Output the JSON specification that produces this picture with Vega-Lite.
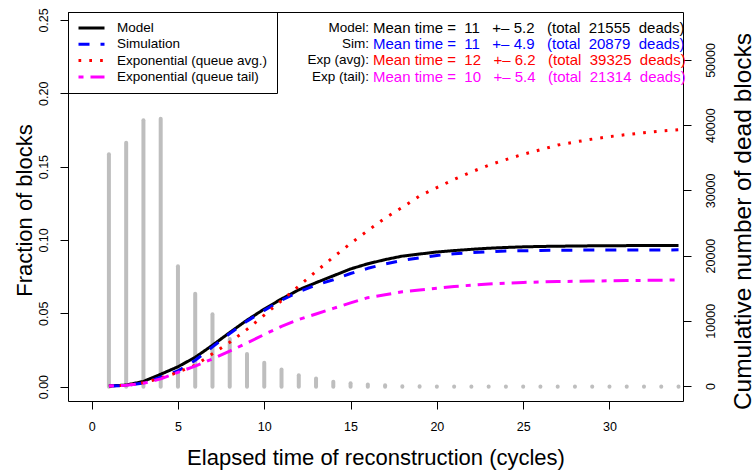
{
  "$schema": "https://vega.github.io/schema/vega-lite/v6.json",
  "width": 615,
  "height": 389,
  "autosize": {"type": "none"},
  "padding": {"left": 68, "top": 12, "right": 71, "bottom": 69},
  "config": {
    "view": {"stroke": "black", "strokeWidth": 1},
    "font": "Liberation Sans",
    "axis": {
      "domain": false, "grid": false, "tickColor": "black", "tickSize": 8, "tickWidth": 1,
      "labelFont": "Liberation Sans", "labelFontSize": 12.5, "labelColor": "black",
      "titleFont": "Liberation Sans", "titleFontSize": 22, "titleFontWeight": "normal", "titleColor": "black",
      "labelFlush": false, "labelOverlap": false
    }
  },
  "datasets": {
    "bars": [
      {"t": 1, "frac": 0.1584}, {"t": 2, "frac": 0.1663}, {"t": 3, "frac": 0.1816}, {"t": 4, "frac": 0.1827},
      {"t": 5, "frac": 0.0821}, {"t": 6, "frac": 0.0634}, {"t": 7, "frac": 0.0494}, {"t": 8, "frac": 0.0325},
      {"t": 9, "frac": 0.0223}, {"t": 10, "frac": 0.0162}, {"t": 11, "frac": 0.0116}, {"t": 12, "frac": 0.0078},
      {"t": 13, "frac": 0.0055}, {"t": 14, "frac": 0.0034}, {"t": 15, "frac": 0.0023}, {"t": 16, "frac": 0.0014},
      {"t": 17, "frac": 0.0009}, {"t": 18, "frac": 0.0003}, {"t": 19, "frac": 0.0002}, {"t": 20, "frac": 0.0001},
      {"t": 21, "frac": 0.0001}, {"t": 22, "frac": 0.0001}, {"t": 23, "frac": 0.0001}, {"t": 24, "frac": 0.0001},
      {"t": 25, "frac": 0.0001}, {"t": 26, "frac": 0.0001}, {"t": 27, "frac": 0.0001}, {"t": 28, "frac": 0.0001},
      {"t": 29, "frac": 0.0001}, {"t": 30, "frac": 0.0001}, {"t": 31, "frac": 0.0001}, {"t": 32, "frac": 0.0001},
      {"t": 33, "frac": 0.0001}, {"t": 34, "frac": 0.0001}
    ],
    "curves": [
      {"t": 1, "s": "Model", "n": 0}, {"t": 2, "s": "Model", "n": 150}, {"t": 3, "s": "Model", "n": 700}, {"t": 4, "s": "Model", "n": 1800},
      {"t": 5, "s": "Model", "n": 2950}, {"t": 6, "s": "Model", "n": 4400}, {"t": 7, "s": "Model", "n": 6250}, {"t": 8, "s": "Model", "n": 8200},
      {"t": 9, "s": "Model", "n": 10100}, {"t": 10, "s": "Model", "n": 11800}, {"t": 11, "s": "Model", "n": 13350}, {"t": 12, "s": "Model", "n": 14750},
      {"t": 13, "s": "Model", "n": 15850}, {"t": 14, "s": "Model", "n": 16900}, {"t": 15, "s": "Model", "n": 17950}, {"t": 16, "s": "Model", "n": 18750},
      {"t": 17, "s": "Model", "n": 19380}, {"t": 18, "s": "Model", "n": 19920}, {"t": 19, "s": "Model", "n": 20240}, {"t": 20, "s": "Model", "n": 20550},
      {"t": 21, "s": "Model", "n": 20770}, {"t": 22, "s": "Model", "n": 20960}, {"t": 23, "s": "Model", "n": 21130}, {"t": 24, "s": "Model", "n": 21250},
      {"t": 25, "s": "Model", "n": 21340}, {"t": 26, "s": "Model", "n": 21400}, {"t": 27, "s": "Model", "n": 21440}, {"t": 28, "s": "Model", "n": 21470},
      {"t": 29, "s": "Model", "n": 21500}, {"t": 30, "s": "Model", "n": 21520}, {"t": 31, "s": "Model", "n": 21530}, {"t": 32, "s": "Model", "n": 21540},
      {"t": 33, "s": "Model", "n": 21550}, {"t": 34, "s": "Model", "n": 21555},
      {"t": 1, "s": "Simulation", "n": 0}, {"t": 2, "s": "Simulation", "n": 80}, {"t": 3, "s": "Simulation", "n": 450}, {"t": 4, "s": "Simulation", "n": 1350},
      {"t": 5, "s": "Simulation", "n": 2300}, {"t": 6, "s": "Simulation", "n": 3950}, {"t": 7, "s": "Simulation", "n": 6000}, {"t": 8, "s": "Simulation", "n": 8050},
      {"t": 9, "s": "Simulation", "n": 9950}, {"t": 10, "s": "Simulation", "n": 11600}, {"t": 11, "s": "Simulation", "n": 13150}, {"t": 12, "s": "Simulation", "n": 14450},
      {"t": 13, "s": "Simulation", "n": 15500}, {"t": 14, "s": "Simulation", "n": 16300}, {"t": 15, "s": "Simulation", "n": 17250}, {"t": 16, "s": "Simulation", "n": 18050},
      {"t": 17, "s": "Simulation", "n": 18720}, {"t": 18, "s": "Simulation", "n": 19270}, {"t": 19, "s": "Simulation", "n": 19650}, {"t": 20, "s": "Simulation", "n": 20020},
      {"t": 21, "s": "Simulation", "n": 20270}, {"t": 22, "s": "Simulation", "n": 20460}, {"t": 23, "s": "Simulation", "n": 20590}, {"t": 24, "s": "Simulation", "n": 20700},
      {"t": 25, "s": "Simulation", "n": 20750}, {"t": 26, "s": "Simulation", "n": 20790}, {"t": 27, "s": "Simulation", "n": 20820}, {"t": 28, "s": "Simulation", "n": 20840},
      {"t": 29, "s": "Simulation", "n": 20850}, {"t": 30, "s": "Simulation", "n": 20860}, {"t": 31, "s": "Simulation", "n": 20865}, {"t": 32, "s": "Simulation", "n": 20870},
      {"t": 33, "s": "Simulation", "n": 20875}, {"t": 34, "s": "Simulation", "n": 20879},
      {"t": 1, "s": "Exponential (queue avg.)", "n": 0}, {"t": 2, "s": "Exponential (queue avg.)", "n": 120}, {"t": 3, "s": "Exponential (queue avg.)", "n": 500}, {"t": 4, "s": "Exponential (queue avg.)", "n": 1200},
      {"t": 5, "s": "Exponential (queue avg.)", "n": 2100}, {"t": 6, "s": "Exponential (queue avg.)", "n": 3200}, {"t": 7, "s": "Exponential (queue avg.)", "n": 4930}, {"t": 8, "s": "Exponential (queue avg.)", "n": 6700},
      {"t": 9, "s": "Exponential (queue avg.)", "n": 8690}, {"t": 10, "s": "Exponential (queue avg.)", "n": 10870}, {"t": 11, "s": "Exponential (queue avg.)", "n": 13100}, {"t": 12, "s": "Exponential (queue avg.)", "n": 15320},
      {"t": 13, "s": "Exponential (queue avg.)", "n": 17570}, {"t": 14, "s": "Exponential (queue avg.)", "n": 19760}, {"t": 15, "s": "Exponential (queue avg.)", "n": 21860}, {"t": 16, "s": "Exponential (queue avg.)", "n": 23830},
      {"t": 17, "s": "Exponential (queue avg.)", "n": 25760}, {"t": 18, "s": "Exponential (queue avg.)", "n": 27400}, {"t": 19, "s": "Exponential (queue avg.)", "n": 29150}, {"t": 20, "s": "Exponential (queue avg.)", "n": 30430},
      {"t": 21, "s": "Exponential (queue avg.)", "n": 31690}, {"t": 22, "s": "Exponential (queue avg.)", "n": 32830}, {"t": 23, "s": "Exponential (queue avg.)", "n": 33860}, {"t": 24, "s": "Exponential (queue avg.)", "n": 34730},
      {"t": 25, "s": "Exponential (queue avg.)", "n": 35540}, {"t": 26, "s": "Exponential (queue avg.)", "n": 36230}, {"t": 27, "s": "Exponential (queue avg.)", "n": 36950}, {"t": 28, "s": "Exponential (queue avg.)", "n": 37420},
      {"t": 29, "s": "Exponential (queue avg.)", "n": 37860}, {"t": 30, "s": "Exponential (queue avg.)", "n": 38250}, {"t": 31, "s": "Exponential (queue avg.)", "n": 38560}, {"t": 32, "s": "Exponential (queue avg.)", "n": 38850},
      {"t": 33, "s": "Exponential (queue avg.)", "n": 39100}, {"t": 34, "s": "Exponential (queue avg.)", "n": 39300},
      {"t": 1, "s": "Exponential (queue tail)", "n": 0}, {"t": 2, "s": "Exponential (queue tail)", "n": 100}, {"t": 3, "s": "Exponential (queue tail)", "n": 420}, {"t": 4, "s": "Exponential (queue tail)", "n": 1100},
      {"t": 5, "s": "Exponential (queue tail)", "n": 2100}, {"t": 6, "s": "Exponential (queue tail)", "n": 3050}, {"t": 7, "s": "Exponential (queue tail)", "n": 4150}, {"t": 8, "s": "Exponential (queue tail)", "n": 5350},
      {"t": 9, "s": "Exponential (queue tail)", "n": 6600}, {"t": 10, "s": "Exponential (queue tail)", "n": 7900}, {"t": 11, "s": "Exponential (queue tail)", "n": 9150}, {"t": 12, "s": "Exponential (queue tail)", "n": 10200},
      {"t": 13, "s": "Exponential (queue tail)", "n": 11050}, {"t": 14, "s": "Exponential (queue tail)", "n": 11900}, {"t": 15, "s": "Exponential (queue tail)", "n": 12750}, {"t": 16, "s": "Exponential (queue tail)", "n": 13550},
      {"t": 17, "s": "Exponential (queue tail)", "n": 13980}, {"t": 18, "s": "Exponential (queue tail)", "n": 14460}, {"t": 19, "s": "Exponential (queue tail)", "n": 14730}, {"t": 20, "s": "Exponential (queue tail)", "n": 14990},
      {"t": 21, "s": "Exponential (queue tail)", "n": 15260}, {"t": 22, "s": "Exponential (queue tail)", "n": 15460}, {"t": 23, "s": "Exponential (queue tail)", "n": 15640}, {"t": 24, "s": "Exponential (queue tail)", "n": 15780},
      {"t": 25, "s": "Exponential (queue tail)", "n": 15880}, {"t": 26, "s": "Exponential (queue tail)", "n": 15950}, {"t": 27, "s": "Exponential (queue tail)", "n": 16020}, {"t": 28, "s": "Exponential (queue tail)", "n": 16060},
      {"t": 29, "s": "Exponential (queue tail)", "n": 16100}, {"t": 30, "s": "Exponential (queue tail)", "n": 16140}, {"t": 31, "s": "Exponential (queue tail)", "n": 16170}, {"t": 32, "s": "Exponential (queue tail)", "n": 16200},
      {"t": 33, "s": "Exponential (queue tail)", "n": 16230}, {"t": 34, "s": "Exponential (queue tail)", "n": 16260}
    ],
    "notes": [
      {"s": "Model", "prefix": "Model:", "stat": "Mean time =\u00a0\u00a011\u00a0\u00a0\u00a0+\u2013\u00a05.2\u00a0\u00a0\u00a0(total\u00a0\u00a021555\u00a0\u00a0deads)"},
      {"s": "Simulation", "prefix": "Sim:", "stat": "Mean time =\u00a0\u00a011\u00a0\u00a0\u00a0+\u2013\u00a04.9\u00a0\u00a0\u00a0(total\u00a0\u00a020879\u00a0\u00a0deads)"},
      {"s": "Exponential (queue avg.)", "prefix": "Exp (avg):", "stat": "Mean time =\u00a0\u00a012\u00a0\u00a0\u00a0+\u2013\u00a06.2\u00a0\u00a0\u00a0(total\u00a0\u00a039325\u00a0\u00a0deads)"},
      {"s": "Exponential (queue tail)", "prefix": "Exp (tail):", "stat": "Mean time =\u00a0\u00a010\u00a0\u00a0\u00a0+\u2013\u00a05.4\u00a0\u00a0\u00a0(total\u00a0\u00a021314\u00a0\u00a0deads)"}
    ]
  },
  "layer": [
    {
      "data": {"name": "bars"},
      "mark": {"type": "rule", "color": "#BEBEBE", "strokeWidth": 4, "strokeCap": "round"},
      "encoding": {
        "x": {
          "field": "t", "type": "quantitative",
          "scale": {"domain": [-1.37, 34.26], "nice": false, "zero": false},
          "axis": {"values": [0, 5, 10, 15, 20, 25, 30], "title": "Elapsed time of reconstruction (cycles)", "labelPadding": 11.5, "titlePadding": 14}
        },
        "y": {
          "field": "frac", "type": "quantitative",
          "scale": {"domain": [-0.0098, 0.2554], "nice": false, "zero": false},
          "axis": {"orient": "left", "values": [0, 0.05, 0.1, 0.15, 0.2, 0.25], "format": ".2f", "labelAngle": -90, "labelAlign": "center", "labelBaseline": "bottom", "labelPadding": 9.5, "title": "Fraction of blocks", "titlePadding": 1, "titleY": 198}
        },
        "y2": {"datum": 0}
      }
    },
    {
      "layer": [
        {
          "data": {"name": "curves"},
          "mark": {"type": "line", "strokeWidth": 3, "strokeCap": "butt", "strokeJoin": "round"},
          "encoding": {
            "x": {"field": "t", "type": "quantitative"},
            "y": {
              "field": "n", "type": "quantitative",
              "scale": {"domain": [-2300, 57360], "nice": false, "zero": false},
              "axis": {"orient": "right", "values": [0, 10000, 20000, 30000, 40000, 50000], "format": "d", "labelAngle": -90, "labelAlign": "center", "labelBaseline": "top", "labelPadding": 13.5, "title": "Cumulative number of dead blocks", "titleFontSize": 24.5, "titleAngle": -90, "titleBaseline": "top", "titleAlign": "center", "titleY": 209, "titlePadding": 14}
            },
            "color": {
              "field": "s", "type": "nominal",
              "scale": {"domain": ["Model", "Simulation", "Exponential (queue avg.)", "Exponential (queue tail)"], "range": ["#000000", "#0000FF", "#FF0000", "#FF00FF"]},
              "legend": {"orient": "none", "legendX": 0, "legendY": 0, "title": null, "strokeColor": "black", "padding": 9, "symbolType": "stroke", "symbolSize": 676, "symbolStrokeWidth": 3, "clipHeight": 14, "rowPadding": 2.3, "labelFontSize": 13.5, "labelFont": "Liberation Sans", "labelOffset": 11, "labelColor": "black", "labelLimit": 300}
            },
            "strokeDash": {
              "field": "s", "type": "nominal",
              "scale": {"domain": ["Model", "Simulation", "Exponential (queue avg.)", "Exponential (queue tail)"], "range": [[1, 0], [11, 11], [2.7, 8.1], [5, 7, 15, 7]]},
              "legend": {"orient": "none", "legendX": 0, "legendY": 0, "title": null, "strokeColor": "black", "padding": 9, "symbolType": "stroke", "symbolSize": 676, "symbolStrokeWidth": 3, "clipHeight": 14, "rowPadding": 2.3, "labelFontSize": 13.5, "labelFont": "Liberation Sans", "labelOffset": 11, "labelColor": "black", "labelLimit": 300}
            }
          }
        },
        {
          "data": {"name": "notes"},
          "transform": [{"filter": "datum.s == 'Model'"}],
          "layer": [
            {"mark": {"type": "text", "align": "right", "baseline": "middle", "fontSize": 13.5, "font": "Liberation Sans", "color": "black"},
             "encoding": {"x": {"datum": 16.07}, "y": {"datum": 54860}, "text": {"field": "prefix"}}},
            {"mark": {"type": "text", "align": "left", "baseline": "middle", "fontSize": 15, "font": "Liberation Sans", "color": "black"},
             "encoding": {"x": {"datum": 16.3}, "y": {"datum": 54860}, "text": {"field": "stat"}}}
          ]
        },
        {
          "data": {"name": "notes"},
          "transform": [{"filter": "datum.s == 'Simulation'"}],
          "layer": [
            {"mark": {"type": "text", "align": "right", "baseline": "middle", "fontSize": 13.5, "font": "Liberation Sans", "color": "black"},
             "encoding": {"x": {"datum": 16.07}, "y": {"datum": 52460}, "text": {"field": "prefix"}}},
            {"mark": {"type": "text", "align": "left", "baseline": "middle", "fontSize": 15, "font": "Liberation Sans", "color": "#0000FF"},
             "encoding": {"x": {"datum": 16.3}, "y": {"datum": 52460}, "text": {"field": "stat"}}}
          ]
        },
        {
          "data": {"name": "notes"},
          "transform": [{"filter": "datum.s == 'Exponential (queue avg.)'"}],
          "layer": [
            {"mark": {"type": "text", "align": "right", "baseline": "middle", "fontSize": 13.5, "font": "Liberation Sans", "color": "black"},
             "encoding": {"x": {"datum": 16.07}, "y": {"datum": 49950}, "text": {"field": "prefix"}}},
            {"mark": {"type": "text", "align": "left", "baseline": "middle", "fontSize": 15, "font": "Liberation Sans", "color": "#FF0000"},
             "encoding": {"x": {"datum": 16.3}, "y": {"datum": 49950}, "text": {"field": "stat"}}}
          ]
        },
        {
          "data": {"name": "notes"},
          "transform": [{"filter": "datum.s == 'Exponential (queue tail)'"}],
          "layer": [
            {"mark": {"type": "text", "align": "right", "baseline": "middle", "fontSize": 13.5, "font": "Liberation Sans", "color": "black"},
             "encoding": {"x": {"datum": 16.07}, "y": {"datum": 47440}, "text": {"field": "prefix"}}},
            {"mark": {"type": "text", "align": "left", "baseline": "middle", "fontSize": 15, "font": "Liberation Sans", "color": "#FF00FF"},
             "encoding": {"x": {"datum": 16.3}, "y": {"datum": 47440}, "text": {"field": "stat"}}}
          ]
        }
      ]
    }
  ],
  "resolve": {"scale": {"y": "independent"}, "axis": {"y": "independent"}}
}
